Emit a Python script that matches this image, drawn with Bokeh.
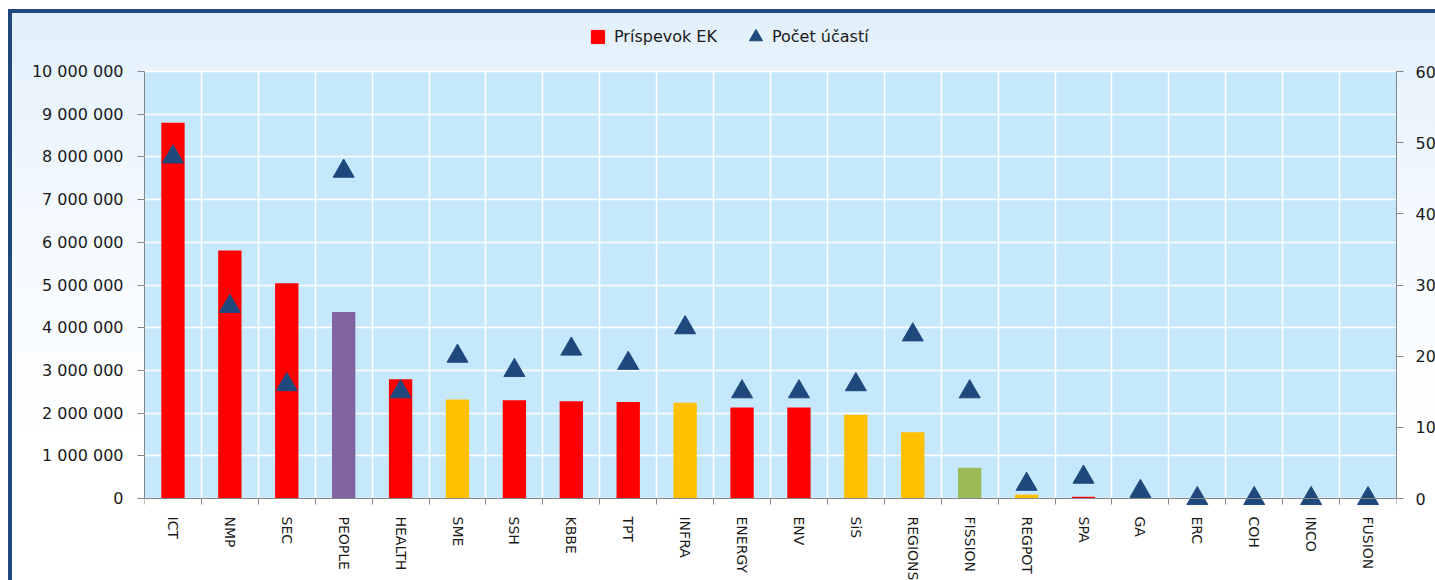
from bokeh.plotting import figure
from bokeh.models import (Range1d, LinearAxis, FixedTicker, Legend, LegendItem,
                          ColumnDataSource, BoxAnnotation)
from bokeh.embed import file_html
from bokeh.resources import INLINE

# ---- data -----------------------------------------------------------
categories = ["ICT", "NMP", "SEC", "PEOPLE", "HEALTH", "SME", "SSH", "KBBE", "TPT",
              "INFRA", "ENERGY", "ENV", "SiS", "REGIONS", "FISSION", "REGPOT", "SPA",
              "GA", "ERC", "COH", "INCO", "FUSION"]
contribution = [8800000, 5810000, 5040000, 4370000, 2790000, 2320000, 2300000, 2280000,
                2260000, 2240000, 2130000, 2130000, 1960000, 1550000, 720000, 90000,
                40000, 10000, 0, 0, 0, 0]
participations = [48, 27, 16, 46, 15, 20, 18, 21, 19, 24, 15, 15, 16, 23, 15, 2, 3, 1,
                  0, 0, 0, 0]
series_names = ["Príspevok EK", "Počet účastí"]
left_ticks = [0, 1000000, 2000000, 3000000, 4000000, 5000000, 6000000, 7000000,
              8000000, 9000000, 10000000]
left_tick_labels = ["0", "1 000 000", "2 000 000", "3 000 000", "4 000 000", "5 000 000",
                    "6 000 000", "7 000 000", "8 000 000", "9 000 000", "10 000 000"]
right_ticks = [0, 10, 20, 30, 40, 50, 60]

# ---- styles / layout ------------------------------------------------
RED, PURPLE, YELLOW, GREEN = "#FF0000", "#8064A2", "#FFC000", "#9BBB59"
bar_colors = [RED, RED, RED, PURPLE, RED, YELLOW, RED, RED, RED, YELLOW, RED, RED,
              YELLOW, YELLOW, GREEN, YELLOW, RED, RED, RED, RED, RED, GREEN]
MARKER = "#1F497D"
AXIS = "#868686"
TEXT = "#1a1a1a"
PLOT_BG = "#C6E8FC"
FONT = "DejaVu Sans"

PLOT_H = 427          # pixel height of the value area
HEADROOM = 42         # pixels above the value area kept in the frame for the legend
BELOW = 86            # pixels below the zero line kept in the frame for category labels
left_max, right_max = left_ticks[-1], right_ticks[-1]
lo, hi = -BELOW / PLOT_H, 1 + HEADROOM / PLOT_H

n = len(categories)
centers = [i + 0.5 for i in range(n)]
boundaries = list(range(n + 1))

src = ColumnDataSource(dict(x=centers, cat=categories, contribution=contribution,
                            participations=participations, color=bar_colors))

p = figure(width=1427, height=571, x_range=Range1d(0, n),
           y_range=Range1d(left_max * lo, left_max * hi),
           output_backend="svg", toolbar_location=None,
           min_border_left=132, min_border_right=43, min_border_top=16,
           min_border_bottom=0)
p.extra_y_ranges = {"count": Range1d(right_max * lo, right_max * hi)}
p.background_fill_color = None
p.border_fill_color = None
p.outline_line_color = None
p.styles = {
    "margin-left": "8px",
    "margin-top": "9px",
    "border-left": "4px solid #1F497D",
    "border-top": "4px solid #1F497D",
    "background": "linear-gradient(to bottom, #E2F0FB 0%, #F3F9FE 35%, #FFFFFF 75%)",
}

# light-blue value area
p.add_layout(BoxAnnotation(bottom=0, top=left_max, fill_color=PLOT_BG, fill_alpha=1,
                           line_color=None, level="image"))

# grids
p.ygrid.ticker = FixedTicker(ticks=left_ticks)
p.ygrid.grid_line_color = "white"
p.ygrid.grid_line_width = 1.5
p.xgrid.grid_line_color = None
p.xgrid.minor_grid_line_color = "white"
p.xgrid.minor_grid_line_width = 1.5
p.xgrid.cross_bounds = (0, left_max)

# x axis, drawn on the zero line
xa = p.xaxis[0]
xa.fixed_location = 0
xa.ticker = FixedTicker(ticks=centers, minor_ticks=boundaries)
xa.major_label_overrides = {c: name for c, name in zip(centers, categories)}
xa.major_label_orientation = "vertical"
xa.major_tick_line_color = None
xa.major_tick_out = 0
xa.major_tick_in = 0
xa.minor_tick_line_color = AXIS
xa.minor_tick_out = 6
xa.minor_tick_in = 0
xa.axis_line_color = AXIS
xa.major_label_standoff = 12
xa.major_label_text_font = FONT
xa.major_label_text_font_size = "14px"
xa.major_label_text_color = TEXT

# left axis
ya = p.yaxis[0]
ya.ticker = FixedTicker(ticks=left_ticks)
ya.major_label_overrides = {t: s for t, s in zip(left_ticks, left_tick_labels)}
ya.bounds = (0, left_max)

yr = LinearAxis(y_range_name="count", ticker=FixedTicker(ticks=right_ticks),
                bounds=(0, right_max))
p.add_layout(yr, "right")

for ax, standoff in ((ya, 14), (yr, 12)):
    ax.axis_line_color = AXIS
    ax.major_tick_line_color = AXIS
    ax.major_tick_out = 7
    ax.major_tick_in = 0
    ax.minor_tick_line_color = None
    ax.major_label_standoff = standoff
    ax.major_label_text_font = FONT
    ax.major_label_text_font_size = "16px"
    ax.major_label_text_color = TEXT

bars = p.vbar(x="x", top="contribution", width=0.41, fill_color="color",
              line_color=None, source=src)
tris = p.scatter(x="x", y="participations", marker="triangle", size=21,
                 fill_color=MARKER, line_color=MARKER, y_range_name="count", source=src)
# legend swatch for the bar series (square marker of zero size: draws nothing in the plot)
swatch = p.scatter(x="x", y="contribution", marker="square", size=0,
                   fill_color=RED, line_color=RED, source=src)

legend = Legend(items=[LegendItem(label=series_names[0], renderers=[swatch], index=0),
                       LegendItem(label=series_names[1], renderers=[tris], index=0)],
                orientation="horizontal", location=(437, 445 + BELOW), margin=0,
                padding=0, glyph_width=33, glyph_height=33, label_standoff=0, spacing=22,
                border_line_color=None, background_fill_alpha=0,
                label_text_font=FONT, label_text_font_size="16px",
                label_text_color=TEXT)
p.add_layout(legend)

open("out.html", "w").write(file_html(p, INLINE))
